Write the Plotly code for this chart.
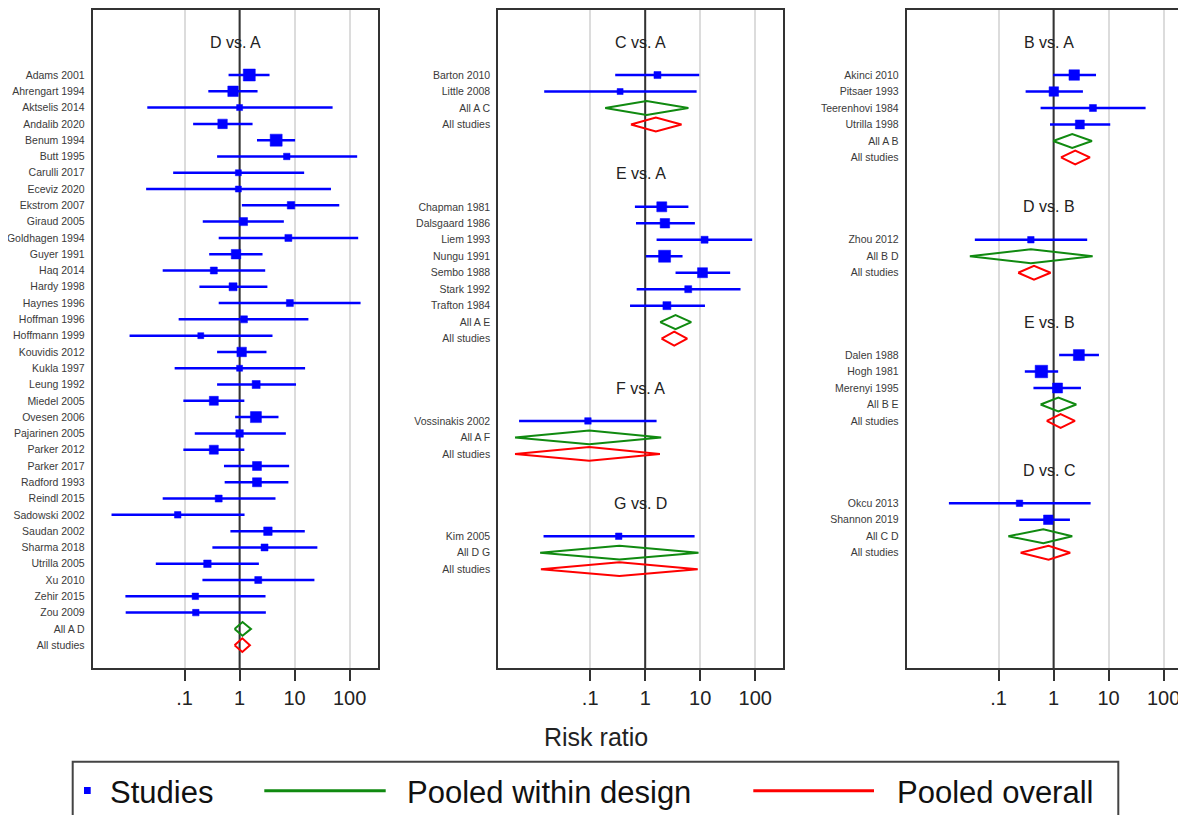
import plotly.graph_objects as go

FONT = "Liberation Sans, Arial, Helvetica, sans-serif"

# ---------------- Panel 1 : D vs. A ----------------
DA_study = ["Adams 2001", "Ahrengart 1994", "Aktselis 2014", "Andalib 2020", "Benum 1994",
            "Butt 1995", "Carulli 2017", "Eceviz 2020", "Ekstrom 2007", "Giraud 2005",
            "Goldhagen 1994", "Guyer 1991", "Haq 2014", "Hardy 1998", "Haynes 1996",
            "Hoffman 1996", "Hoffmann 1999", "Kouvidis 2012", "Kukla 1997", "Leung 1992",
            "Miedel 2005", "Ovesen 2006", "Pajarinen 2005", "Parker 2012", "Parker 2017",
            "Radford 1993", "Reindl 2015", "Sadowski 2002", "Saudan 2002", "Sharma 2018",
            "Utrilla 2005", "Xu 2010", "Zehir 2015", "Zou 2009"]
DA_rr = [1.5, 0.76, 1.0, 0.49, 4.62, 7.2, 0.95, 0.95, 8.6, 1.18,
         7.7, 0.86, 0.34, 0.76, 8.2, 1.2, 0.197, 1.09, 1.0, 2.0,
         0.34, 1.98, 1.0, 0.34, 2.07, 2.07, 0.417, 0.075, 3.27, 2.84,
         0.26, 2.18, 0.157, 0.16]
DA_lo = [0.63, 0.27, 0.021, 0.143, 2.07, 0.39, 0.062, 0.020, 1.1, 0.214,
         0.417, 0.28, 0.040, 0.186, 0.417, 0.078, 0.010, 0.39, 0.066, 0.39,
         0.095, 0.83, 0.153, 0.095, 0.52, 0.535, 0.040, 0.0047, 0.68, 0.32,
         0.030, 0.211, 0.0084, 0.0085]
DA_hi = [3.5, 2.12, 49, 1.72, 10.2, 137, 14.9, 45.8, 64.8, 6.37,
         143, 2.61, 2.92, 3.2, 158, 17.8, 3.96, 3.08, 15.5, 10.6,
         1.22, 5.09, 6.93, 1.22, 7.95, 7.7, 4.49, 1.23, 15.3, 25.9,
         2.24, 22.9, 2.96, 3.0]
DA_wt = [12, 10.5, 6, 9.5, 12, 6.5, 6, 6, 7.5, 8,
         7, 9.5, 7, 8, 7, 7, 6, 9.5, 6, 8,
         9, 11, 7.5, 9, 9, 9, 7, 6.5, 8.5, 7,
         7.5, 7, 6.5, 6.5]
DA_design = [1.13, 0.81, 1.61]   # est, lo, hi
DA_overall = [1.12, 0.81, 1.54]

# ---------------- Panel 2 ----------------
CA_study = ["Barton 2010", "Little 2008"]
CA_rr = [1.67, 0.35]
CA_lo = [0.285, 0.0146]
CA_hi = [9.6, 8.6]
CA_wt = [7, 6]
CA_design = [1.06, 0.187, 6.1]
CA_overall = [1.56, 0.55, 4.57]

EA_study = ["Chapman 1981", "Dalsgaard 1986", "Liem 1993", "Nungu 1991", "Sembo 1988",
            "Stark 1992", "Trafton 1984"]
EA_rr = [2.0, 2.28, 12.0, 2.25, 11.0, 6.05, 2.48]
EA_lo = [0.65, 0.68, 1.61, 1.03, 3.56, 0.70, 0.53]
EA_hi = [6.1, 8.0, 88, 4.77, 35, 54, 12.2]
EA_wt = [10, 9.5, 7, 12, 10, 7, 8]
EA_design = [3.56, 1.87, 6.86]
EA_overall = [3.37, 1.98, 5.8]

FA_study = ["Vossinakis 2002"]
FA_rr = [0.091]
FA_lo = [0.0051]
FA_hi = [1.61]
FA_wt = [6.5]
FA_design = [0.096, 0.0043, 1.95]
FA_overall = [0.096, 0.0043, 1.85]

GD_study = ["Kim 2005"]
GD_rr = [0.33]
GD_lo = [0.0142]
GD_hi = [7.9]
GD_wt = [6.5]
GD_design = [0.34, 0.0123, 9.3]
GD_overall = [0.34, 0.0127, 9.0]

# ---------------- Panel 3 ----------------
BA_study = ["Akinci 2010", "Pitsaer 1993", "Teerenhovi 1984", "Utrilla 1998"]
BA_rr = [2.37, 1.01, 5.19, 3.0]
BA_lo = [0.98, 0.31, 0.58, 0.86]
BA_hi = [5.9, 3.41, 47, 10.7]
BA_wt = [10.5, 9.5, 7, 9]
BA_design = [2.18, 0.98, 4.97]
BA_overall = [2.47, 1.36, 4.57]

DB_study = ["Zhou 2012"]
DB_rr = [0.386]
DB_lo = [0.037]
DB_hi = [4.08]
DB_wt = [6.5]
DB_design = [0.386, 0.030, 5.12]
DB_overall = [0.44, 0.227, 0.88]

EB_study = ["Dalen 1988", "Hogh 1981", "Merenyi 1995"]
EB_rr = [2.88, 0.6, 1.18]
EB_lo = [1.26, 0.30, 0.43]
EB_hi = [6.67, 1.21, 3.14]
EB_wt = [11, 12.5, 10]
EB_design = [1.22, 0.58, 2.58]
EB_overall = [1.34, 0.75, 2.44]

DC_study = ["Okcu 2013", "Shannon 2019"]
DC_rr = [0.24, 0.8]
DC_lo = [0.0125, 0.237]
DC_hi = [4.71, 1.98]
DC_wt = [6.5, 9.5]
DC_design = [0.65, 0.15, 2.18]
DC_overall = [0.81, 0.251, 2.0]

# groups: (title, design label, studies, rr, lo, hi, weight, design, overall)
panels = [
    [("D vs. A", "All A D", DA_study, DA_rr, DA_lo, DA_hi, DA_wt, DA_design, DA_overall)],
    [("C vs. A", "All A C", CA_study, CA_rr, CA_lo, CA_hi, CA_wt, CA_design, CA_overall),
     ("E vs. A", "All A E", EA_study, EA_rr, EA_lo, EA_hi, EA_wt, EA_design, EA_overall),
     ("F vs. A", "All A F", FA_study, FA_rr, FA_lo, FA_hi, FA_wt, FA_design, FA_overall),
     ("G vs. D", "All D G", GD_study, GD_rr, GD_lo, GD_hi, GD_wt, GD_design, GD_overall)],
    [("B vs. A", "All A B", BA_study, BA_rr, BA_lo, BA_hi, BA_wt, BA_design, BA_overall),
     ("D vs. B", "All B D", DB_study, DB_rr, DB_lo, DB_hi, DB_wt, DB_design, DB_overall),
     ("E vs. B", "All B E", EB_study, EB_rr, EB_lo, EB_hi, EB_wt, EB_design, EB_overall),
     ("D vs. C", "All C D", DC_study, DC_rr, DC_lo, DC_hi, DC_wt, DC_design, DC_overall)],
]

tick_vals = [0.1, 1, 10, 100]
tick_text = [".1", "1", "10", "100"]

# page body margin of 8px: figure is placed at (8, 8) in the 1186x815 window
OFF = 8
W, H = 1186 - OFF, 815 - OFF


def px(x):
    return (x - OFF) / W


def py(y):
    return 1 - (y - OFF) / H


BLUE, GREEN, RED = "#0000ff", "#108a10", "#ff0000"
LINE = "#333333"

x_px = [(92.7, 377.7), (498.3, 783.3), (906.7, 1186.0)]
decade = 55.02
xlog_left = -2.67
y_ranges = [(36.40, -3.99), (36.0, -3.95), (36.0, -3.95)]
y_dom = [py(668), py(10)]
half_h = 0.42

fig = go.Figure()
annotations = []

for p, groups in enumerate(panels):
    xa = "x" if p == 0 else f"x{p + 1}"
    ya = "y" if p == 0 else f"y{p + 1}"
    row = -2
    tvals, ttext = [], []
    ci_x, ci_y, mk_x, mk_y, mk_s = [], [], [], [], []
    dd_x, dd_y, ov_x, ov_y = [], [], [], []
    for (title, dlabel, st, rr, lo, hi, wt, des, ovr) in groups:
        annotations.append(dict(text=title, xref=xa, yref=ya, x=(xlog_left + 2.51) / 2, y=row,
                                xanchor="center", yanchor="middle",
                                showarrow=False, font=dict(size=16, color="#222", family=FONT)))
        r = row + 2
        for i in range(len(st)):
            tvals.append(r)
            ttext.append(st[i])
            ci_x += [lo[i], hi[i], None]
            ci_y += [r, r, None]
            mk_x.append(rr[i])
            mk_y.append(r)
            mk_s.append(wt[i])
            r += 1
        # pooled within design
        tvals.append(r)
        ttext.append(dlabel)
        e, l, h = des
        dd_x += [l, e, h, e, l, None]
        dd_y += [r, r - half_h, r, r + half_h, r, None]
        r += 1
        # pooled overall
        tvals.append(r)
        ttext.append("All studies")
        e, l, h = ovr
        ov_x += [l, e, h, e, l, None]
        ov_y += [r, r - half_h, r, r + half_h, r, None]
        row = r + 3

    ytop, ybot = y_ranges[p][1], y_ranges[p][0]
    fig.add_trace(go.Scatter(x=[1, 1], y=[ytop, ybot], mode="lines", xaxis=xa, yaxis=ya,
                             line=dict(color=LINE, width=2), hoverinfo="skip", showlegend=False))
    fig.add_trace(go.Scatter(x=ci_x, y=ci_y, mode="lines", xaxis=xa, yaxis=ya,
                             line=dict(color=BLUE, width=2.5), showlegend=False))
    fig.add_trace(go.Scatter(x=mk_x, y=mk_y, mode="markers", xaxis=xa, yaxis=ya, opacity=1,
                             marker=dict(symbol="square", size=mk_s, color=BLUE, opacity=1,
                                         line=dict(width=0.5, color=BLUE)),
                             showlegend=False))
    fig.add_trace(go.Scatter(x=dd_x, y=dd_y, mode="lines", xaxis=xa, yaxis=ya,
                             line=dict(color=GREEN, width=2), showlegend=False))
    fig.add_trace(go.Scatter(x=ov_x, y=ov_y, mode="lines", xaxis=xa, yaxis=ya,
                             line=dict(color=RED, width=2), showlegend=False))

    x0, x1 = x_px[p]
    xr = [xlog_left, xlog_left + (x1 - x0) / decade]
    key = "" if p == 0 else str(p + 1)
    fig.update_layout(**{
        f"xaxis{key}": dict(domain=[px(x0), min(1.0, px(x1))], type="log", range=xr, anchor=ya,
                            tickvals=tick_vals, ticktext=tick_text, showgrid=True,
                            gridcolor="#dcdcdc", gridwidth=2, showline=True, mirror=True,
                            linecolor=LINE, linewidth=2, ticks="outside", ticklen=11,
                            tickwidth=2, tickcolor=LINE, zeroline=False,
                            tickfont=dict(size=20, color="#222", family=FONT)),
        f"yaxis{key}": dict(domain=y_dom, range=list(y_ranges[p]), anchor=xa,
                            tickvals=tvals, ticktext=ttext, showgrid=False, zeroline=False,
                            showline=True, mirror=(p < 2), linecolor=LINE, linewidth=2,
                            ticks="outside", ticklen=4, tickcolor="rgba(0,0,0,0)",
                            tickfont=dict(size=10.5, color="#3a3a3a", family=FONT)),
    })

# shared axis title
annotations.append(dict(text="Risk ratio", xref="paper", yref="paper", x=px(595.5), y=py(737),
                        xanchor="center", yanchor="middle",
                        showarrow=False, font=dict(size=25, color="#222", family=FONT)))

# legend (drawn manually to match the original layout)
leg_y = py(792)
for txt, xl in [("Studies", 108), ("Pooled within design", 405), ("Pooled overall", 895)]:
    annotations.append(dict(text=txt, xref="paper", yref="paper", x=px(xl), y=leg_y,
                            xanchor="left", yanchor="middle", showarrow=False,
                            font=dict(size=31, color="#111", family=FONT)))
shapes = [
    dict(type="rect", xref="paper", yref="paper", x0=px(72.7), x1=px(1118.3),
         y0=py(761.7), y1=-0.05, line=dict(color="#444", width=2), fillcolor="rgba(0,0,0,0)"),
    dict(type="rect", xref="paper", yref="paper", x0=px(84), x1=px(90.7),
         y0=py(787), y1=py(794), line=dict(width=0), fillcolor=BLUE),
    dict(type="line", xref="paper", yref="paper", x0=px(264.3), x1=px(385.7),
         y0=py(790.7), y1=py(790.7), line=dict(color=GREEN, width=3)),
    dict(type="line", xref="paper", yref="paper", x0=px(753.3), x1=px(874),
         y0=py(790.7), y1=py(790.7), line=dict(color=RED, width=3)),
]

fig.update_layout(width=W, height=H, margin=dict(l=0, r=0, t=0, b=0),
                  paper_bgcolor="white", plot_bgcolor="white", showlegend=False,
                  annotations=annotations, shapes=shapes, font=dict(family=FONT))

fig.write_html("out.html")
